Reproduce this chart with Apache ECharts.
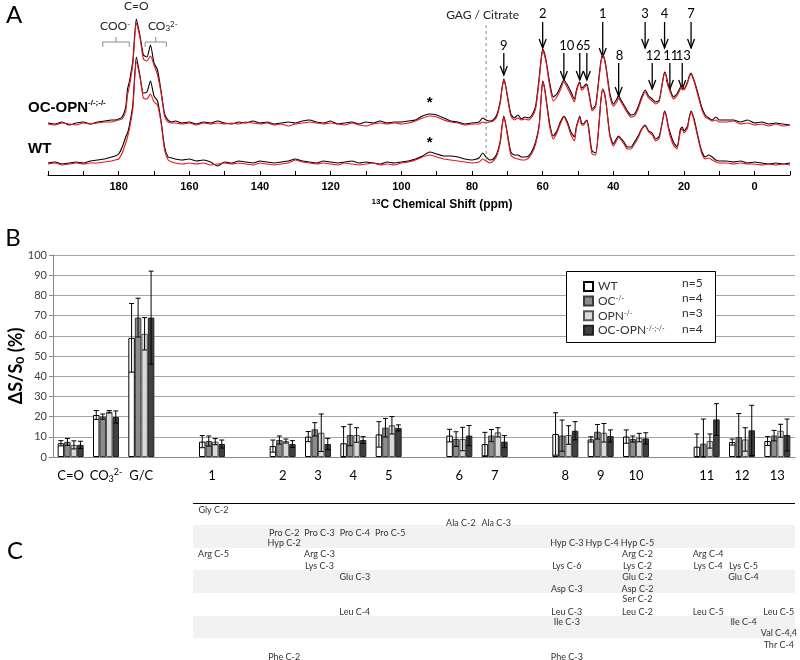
<!DOCTYPE html>
<html><head><meta charset="utf-8">
<script src="https://cdn.jsdelivr.net/npm/echarts@6/dist/echarts.min.js"></script>
<style>html,body{margin:0;padding:0;background:#fff}#c{width:800px;height:660px}</style>
</head><body><div id="c"></div>
<script>
// ---------- Panel A: 13C spectra (ppm axis, intensity above each trace's baseline) ----------
const ppm = [
  200,198,196,194,192,190,188,186,184,182,
  181,180,179,178,177.5,177,176,175,174,173,172,171,170,169,168,167,166,165,164,
  162,160,158,156,154,152,150,148,146,144,142,140,138,136,134,132,130,128,126,124,122,120,118,116,114,112,110,108,106,104,102,
  100,98,96,94,92,90,88,86,84,82,80,78,
  77,76,75,74,73,72,71.5,71,70.5,70,
  69,68,67,66,65,64,63,62,61,60.5,
  60,59.5,59,58,57,56,55,54,53,52,
  51,50.5,50,49.5,49,48.5,48,47.5,47,46.5,
  46,45,44,43.5,43,42.5,42,41,40,39,
  38.5,38,37,36,35,34,33,32,31,30,
  29,28,27,26,25.5,25,24.5,24,23,22,
  21,20.5,20,19,18.5,18,17.5,17,16,15,
  14,13,12,11,10,
  8,6,4,2,0,-2,-4,-6,-8,-10
];
const ocOpnBlack = [
  0,-1,1,-2,0,1,-1,1,2,3,
  3,4,6,16,34,41,62,104,88,68,66,78,60,53,32,9,3,1,2,
  0,1,-1,1,0,2,0,-1,1,0,2,0,1,-1,0,1,0,2,3,1,0,2,-1,0,1,-1,1,0,2,0,1,
  1,2,3,7,9,8,5,2,1,-1,0,1,
  5,3,2,3,8,22,35,44,38,28,
  9,5,8,4,6,5,8,17,45,62,
  74,70,62,40,26,29,36,43,38,31,
  24,32,38,41,35,36,38,39,32,22,
  14,18,48,62,68,64,55,30,19,24,
  28,24,18,12,8,9,16,26,33,27,
  24,21,23,43,51,47,38,34,26,29,
  36,37,34,41,47,50,46,41,29,16,
  8,5,3,6,3,
  3,3,1,3,0,1,-1,0,-1,-2
];
const ocOpnRed = [
  -1,-2,0,-1,-2,0,-1,0,1,1,
  2,3,4,12,28,36,58,100,86,64,62,67,58,48,30,7,1,0,0,
  -1,0,-2,0,-1,0,-1,0,-1,1,0,-1,0,-2,-1,-3,-1,0,1,0,-1,0,-1,-2,0,-2,-3,-1,0,-1,0,
  -1,0,2,5,7,6,3,1,0,-2,-1,-1,
  1,0,1,2,6,20,34,43,37,26,
  7,3,5,3,4,3,6,14,42,60,
  73,68,60,37,22,26,33,41,35,28,
  21,30,37,40,33,34,36,38,30,20,
  12,16,46,61,68,63,53,27,17,21,
  25,22,16,10,6,7,14,24,31,25,
  22,19,22,42,50,46,37,32,24,27,
  34,36,33,40,46,49,45,40,27,14,
  6,4,2,3,1,
  1,2,-1,0,-2,-1,-3,-1,-3,-2
];
const wtBlack = [
  0,1,-1,0,1,0,2,3,4,6,
  7,9,16,26,30,37,58,106,88,70,71,82,67,62,42,16,6,5,4,
  3,4,2,3,1,-3,1,0,2,1,0,2,1,0,1,2,4,2,1,0,2,1,0,1,2,0,1,0,-1,1,0,
  1,2,4,7,11,9,7,7,6,4,3,5,
  10,6,3,4,9,22,37,47,40,30,
  11,8,8,6,6,7,12,21,38,62,
  82,76,64,39,27,32,41,47,41,31,
  26,36,42,47,40,39,41,43,36,22,
  12,10,42,64,74,70,59,29,19,25,
  27,25,21,16,16,21,27,34,38,32,
  30,24,27,44,52,47,38,31,21,16,
  34,36,32,37,46,52,48,42,26,12,
  6,8,6,3,2,
  2,1,2,0,1,0,-1,0,-1,0
];
const wtRed = [
  -1,0,-2,-1,0,-1,0,0,1,2,
  3,4,10,20,26,33,54,101,86,65,64,69,61,58,40,13,3,1,0,
  -1,0,-1,0,-2,-1,0,-1,0,-1,-2,0,-1,-2,-1,0,3,1,0,-1,0,-1,-2,0,-1,-2,-1,0,-2,-1,-2,
  0,1,3,6,8,6,4,3,2,1,0,1,
  4,2,0,2,7,20,36,46,39,28,
  8,5,4,3,3,5,10,19,36,61,
  81,75,62,36,24,30,39,46,39,28,
  22,34,41,46,38,38,40,42,34,19,
  9,8,41,63,74,69,58,27,17,23,
  26,24,19,14,14,19,25,33,37,31,
  28,22,25,43,51,46,36,28,18,14,
  32,34,30,35,45,51,47,40,24,10,
  4,5,3,1,0,
  0,-1,0,-1,-1,-2,-1,-2,-1,-2
];
const ppmTickLabels = [180,160,140,120,100,80,60,40,20,0];
// peak markers: label, ppm
const peaksTop = [['2',60],['1',43],['3',31],['4',25.5],['7',18]];
const peaksMid = [['9',71],['10',54],['6',49.5],['5',47.5]];
const peaksLow = [['8',38.5],['12',29],['11',24],['13',20.5]];

// ---------- Panel B: bar chart ----------
const categories = ['C=O','CO3','G/C','_a','1','_b','2','3','4','5','_c','6','7','_d','8','9','10','_e','11','12','13'];
const seriesNames = ['WT','OC','OPN','OCOPN'];
const groupN = ['n=5','n=4','n=3','n=4'];
const meanWT    = [6.8,20.8,59,'-',7.6,'-',5.4,10.1,6.8,11.2,'-',10.6,6.4,'-',11.4,8.7,10.1,'-',5.1,7.4,7.9];
const meanOC    = [7.5,20,69,'-',7.9,'-',8.4,13.7,10.9,14.5,'-',8.9,10.6,'-',10.6,12.5,8.9,'-',6.6,9.9,10.6];
const meanOPN   = [6,22.4,61,'-',7.6,'-',7.9,12,10.9,15.7,'-',8.9,12.2,'-',10.9,12,9.6,'-',7.9,8.7,13];
const meanOCOPN = [6,19.8,69,'-',6.4,'-',6.4,6.4,8.4,14.4,'-',10.6,7.6,'-',13,10.4,9.2,'-',18.6,13.2,10.9];
const sdWT    = [1.3,2.2,17,'-',3,'-',3,2.5,8.2,6.3,'-',3.1,5.8,'-',10.5,1.3,3.3,'-',6.3,1.5,2.2];
const sdOC    = [1.7,1.3,9.6,'-',2.5,'-',2,3.3,5.3,4.6,'-',3.6,3,'-',7.7,3.6,1.5,'-',12.2,11.6,2.6];
const sdOPN   = [2,0.6,8,'-',1.5,'-',1,9.3,3.6,4.3,'-',5.8,2.3,'-',4.6,4.6,2.1,'-',3.5,5.8,3.2];
const sdOCOPN = [1.8,3,23,'-',2,'-',1.7,2.8,1.7,1.5,'-',5,3,'-',4.5,3,2.8,'-',7.8,12.4,7.9];

// ---------- Panel C: assignment table [text, category, row] ----------
const tableEntries = [
  ['Gly C-2','1',0],
  ['Ala C-2','6',1],['Ala C-3','7',1],
  ['Pro C-2','2',2],['Pro C-3','3',2],['Pro C-4','4',2],['Pro C-5','5',2],
  ['Hyp C-2','2',3],['Hyp C-3','8',3],['Hyp C-4','9',3],['Hyp C-5','10',3],
  ['Arg C-5','1',4],['Arg C-3','3',4],['Arg C-2','10',4],['Arg C-4','11',4],
  ['Lys C-3','3',5],['Lys C-6','8',5],['Lys C-2','10',5],['Lys C-4','11',5],['Lys C-5','12',5],
  ['Glu C-3','4',6],['Glu C-2','10',6],['Glu C-4','12',6],
  ['Asp C-3','8',7],['Asp C-2','10',7],
  ['Ser C-2','10',8],
  ['Leu C-4','4',9],['Leu C-3','8',9],['Leu C-2','10',9],['Leu C-5','11',9],['Leu C-5','13',9],
  ['Ile C-3','8',10],['Ile C-4','12',10],
  ['Val C-4,4','13',11],
  ['Thr C-4','13',12],
  ['Phe C-2','2',13],['Phe C-3','8',13]
];

// ================= rendering =================
const FA = '"Liberation Sans", Arial, sans-serif';
const FC = 'Lato, "Open Sans", sans-serif';
const chart = echarts.init(document.getElementById('c'));
const OFF_OC = 52, OFF_WT = 12;
const trace = (vals, off) => ppm.map((p, i) => [p, vals[i] + off]);
const BW = 6.5;
const offsets = [-1.5*BW, -0.5*BW, 0.5*BW, 1.5*BW];
const means = [meanWT, meanOC, meanOPN, meanOCOPN];
const sds = [sdWT, sdOC, sdOPN, sdOCOPN];
const barStyles = [
  {color:'#ffffff', borderColor:'#000', borderWidth:1},
  {color:'#8c8c8c', borderColor:'#3a3a3a', borderWidth:1},
  {color:'#d9d9d9', borderColor:'#555', borderWidth:1},
  {color:'#404040', borderColor:'#222', borderWidth:1}
];
const lineSeries = (vals, off, color) => ({
  type:'line', xAxisIndex:0, yAxisIndex:0, data:trace(vals, off), showSymbol:false,
  smooth:0.2, silent:true, lineStyle:{color, width:1.1}, z:3
});
const barSeries = seriesNames.map((n, s) => ({
  name:n, type:'bar', xAxisIndex:1, yAxisIndex:1, data:means[s], barWidth:BW, barGap:'0%',
  itemStyle:barStyles[s], silent:true, z:2
}));
const errSeries = seriesNames.map((n, s) => ({
  type:'custom', xAxisIndex:1, yAxisIndex:1, silent:true, z:4,
  data: means[s].map((m, i) => m === '-' ? null : [i, m, sds[s][i]]).filter(d => d),
  encode:{x:0, y:1},
  renderItem:(params, api) => {
    const i = api.value(0), m = api.value(1), e = api.value(2);
    const x = api.coord([i, m])[0] + offsets[s];
    const yt = api.coord([i, m + e])[1], yb = api.coord([i, Math.max(m - e, 0)])[1];
    const st = {stroke:'#000', lineWidth:1};
    return {type:'group', children:[
      {type:'line', shape:{x1:x, y1:yt, x2:x, y2:yb}, style:st},
      {type:'line', shape:{x1:x-2.5, y1:yt, x2:x+2.5, y2:yt}, style:st},
      {type:'line', shape:{x1:x-2.5, y1:yb, x2:x+2.5, y2:yb}, style:st}
    ]};
  }
}));
const legendFmt = {WT:'{t|WT}', OC:'{t|OC}{s|-/-}', OPN:'{t|OPN}{s|-/-}', OCOPN:'{t|OC-OPN}{s|-/-;-/-}'};

chart.setOption({
  animation:false,
  backgroundColor:'#fff',
  grid:[{left:48, top:5, width:742, height:170}, {left:53, top:255, width:742, height:202}],
  xAxis:[
    {gridIndex:0, type:'value', min:-10, max:200, interval:10, inverse:true,
     axisLine:{lineStyle:{color:'#000', width:1}},
     axisTick:{inside:true, length:4, lineStyle:{color:'#000'}},
     splitLine:{show:false},
     axisLabel:{formatter:v => ppmTickLabels.indexOf(v) >= 0 ? String(v) : '', color:'#000',
                fontFamily:FA, fontWeight:'bold', fontSize:11, margin:6}},
    {gridIndex:1, type:'category', data:categories,
     axisLine:{lineStyle:{color:'#8a8a8a'}},
     axisTick:{interval:0, length:4, lineStyle:{color:'#8a8a8a'}},
     axisLabel:{interval:0, margin:11, color:'#000', fontFamily:FC, fontSize:13, lineHeight:16,
       formatter:v => v.charAt(0) === '_' ? '' : (v === 'CO3' ? 'CO{sub|3}{sup|2-}' : v),
       rich:{sub:{fontFamily:FC, fontSize:9, color:'#000', verticalAlign:'bottom', lineHeight:8},
             sup:{fontFamily:FC, fontSize:9, color:'#000', verticalAlign:'top', lineHeight:8}}}}
  ],
  yAxis:[
    {gridIndex:0, type:'value', min:0, max:170, show:false},
    {gridIndex:1, type:'value', min:0, max:100, interval:10,
     axisLine:{show:true, lineStyle:{color:'#8a8a8a'}},
     axisTick:{show:true, length:4, lineStyle:{color:'#8a8a8a'}},
     splitLine:{lineStyle:{color:'#a6a6a6', width:1}},
     axisLabel:{color:'#404040', fontFamily:FC, fontSize:11, margin:6}}
  ],
  legend:{
    data:seriesNames, orient:'vertical', left:578, top:275.5, itemWidth:9, itemHeight:9, itemGap:2.6,
    icon:'rect', selectedMode:false, z:6,
    formatter:n => legendFmt[n],
    textStyle:{color:'#333', fontFamily:FC, fontSize:12, lineHeight:11,
      rich:{t:{fontFamily:FC, fontSize:12, color:'#333', lineHeight:11},
            s:{fontFamily:FC, fontSize:7, color:'#333', verticalAlign:'top', lineHeight:7}}}
  },
  series:[
    lineSeries(ocOpnBlack, OFF_OC, '#000'),
    lineSeries(ocOpnRed, OFF_OC, '#e8141c'),
    lineSeries(wtBlack, OFF_WT, '#000'),
    lineSeries(wtRed, OFF_WT, '#e8141c'),
    ...barSeries, ...errSeries
  ]
});

// ---------- annotations placed through the axes ----------
const px = p => chart.convertToPixel({xAxisIndex:0}, p);
const cx = c => chart.convertToPixel({xAxisIndex:1}, categories.indexOf(c));
const els = [];
const txt = (text, x, y, o, el) => els.push(Object.assign({type:'text', x, y, z:10, silent:true,
  style:Object.assign({text, align:'center', verticalAlign:'middle', fill:'#000', fontFamily:FC, fontSize:13}, o || {})}, el || {}));
const arrow = (x, y1, y2) => els.push({type:'group', z:10, silent:true, children:[
  {type:'line', shape:{x1:x, y1:y1, x2:x, y2:y2}, style:{stroke:'#000', lineWidth:1.3}},
  {type:'polyline', shape:{points:[[x-3.5, y2-9], [x, y2], [x+3.5, y2-9]]}, style:{stroke:'#000', lineWidth:1.3, fill:null}}
]});

// panel letters
txt('A', 14, 15, {fontSize:24});
txt('B', 13, 238, {fontSize:24});
txt('C', 15, 551, {fontSize:24});

// panel A labels
txt('C=O', px(175), 6, {fontSize:12, fill:'#222'});
txt('{a|COO}{s|-}', px(181), 26, {fontSize:12, fill:'#222',
  rich:{a:{fontFamily:FC, fontSize:12, fill:'#222'}, s:{fontFamily:FC, fontSize:8, verticalAlign:'top', lineHeight:8}}});
txt('{a|CO}{b|3}{s|2-}', px(167.5), 26, {fontSize:12, fill:'#222',
  rich:{a:{fontFamily:FC, fontSize:12}, b:{fontFamily:FC, fontSize:8, verticalAlign:'bottom', lineHeight:8},
        s:{fontFamily:FC, fontSize:8, verticalAlign:'top', lineHeight:8}}});
const bracket = (a, b, y) => {
  const x1 = px(a), x2 = px(b), xm = (x1 + x2) / 2;
  els.push({type:'polyline', z:10, silent:true, shape:{points:[[x1, y+5], [x1, y], [x2, y], [x2, y+5]]},
    style:{stroke:'#8a8a8a', lineWidth:1, fill:null}});
  els.push({type:'line', z:10, silent:true, shape:{x1:xm, y1:y, x2:xm, y2:y-5}, style:{stroke:'#8a8a8a', lineWidth:1}});
};
bracket(184.5, 177, 42);
bracket(172.5, 166.5, 42);
txt('{b|OC-OPN}{s|-/-;-/-}', 28, 108, {align:'left',
  rich:{b:{fontFamily:FA, fontWeight:'bold', fontSize:15, lineHeight:18},
        s:{fontFamily:FA, fontWeight:'bold', fontSize:8, verticalAlign:'top', lineHeight:8}}});
txt('WT', 28, 149, {align:'left', fontFamily:FA, fontWeight:'bold', fontSize:15});
txt('*', px(92), 103, {fontFamily:FA, fontWeight:'bold', fontSize:15});
txt('*', px(92), 143, {fontFamily:FA, fontWeight:'bold', fontSize:15});
txt('GAG / Citrate', px(77), 15, {fontSize:12, fill:'#222'});
els.push({type:'line', z:10, silent:true, shape:{x1:px(76), y1:25, x2:px(76), y2:163},
  style:{stroke:'#888', lineWidth:1, lineDash:[3, 3]}});
peaksTop.forEach(([l, p]) => { txt(l, px(p), 14); arrow(px(p), 22, p === 43 ? 57 : 48); });
peaksMid.forEach(([l, p]) => { const x = px(p); txt(l, l === '10' ? x + 3 : x, 46); arrow(x, 53, l === '9' ? 75 : 80); });
peaksLow.forEach(([l, p]) => { const x = px(p); txt(l, x + 1, 56); arrow(x, 63, l === '8' ? 96 : 89); });
txt('{s|13}{b|C Chemical Shift (ppm)}', 442, 205, {
  rich:{s:{fontFamily:FA, fontWeight:'bold', fontSize:8, verticalAlign:'top', lineHeight:8},
        b:{fontFamily:FA, fontWeight:'bold', fontSize:12, lineHeight:14}}});

// panel B: axis title and legend box
txt('{b|ΔS/S}{s|0}{b| (%)}', 16, 366, {
  rich:{b:{fontFamily:FC, fontWeight:'bold', fontSize:18, lineHeight:20},
        s:{fontFamily:FC, fontWeight:'bold', fontSize:12, verticalAlign:'bottom', lineHeight:12}}},
  {rotation:Math.PI/2});
els.push({type:'rect', z:3, silent:true, shape:{x:566.5, y:271.5, width:149, height:71},
  style:{fill:'#fff', stroke:'#000', lineWidth:1}});
groupN.forEach((n, i) => txt(n, 682, 283 + i * 15.3, {align:'left', fontSize:12, fill:'#333'}));

// panel C: table
const rowY = [510,523,533,543,554,566,577,589,599,612,622,633,645,657];
[[525,548],[570,593],[616,638]].forEach(([a, b]) =>
  els.push({type:'rect', z:8, silent:true, shape:{x:193, y:a, width:602, height:b - a}, style:{fill:'#f2f2f2'}}));
els.push({type:'line', z:9, silent:true, shape:{x1:193, y1:503.5, x2:795, y2:503.5}, style:{stroke:'#000', lineWidth:1.2}});
tableEntries.forEach(([t, c, r]) => txt(t, cx(c) + 1.5, rowY[r], {fontSize:9, fill:'#333'}));

chart.setOption({graphic:{elements:els}});
</script></body></html>
